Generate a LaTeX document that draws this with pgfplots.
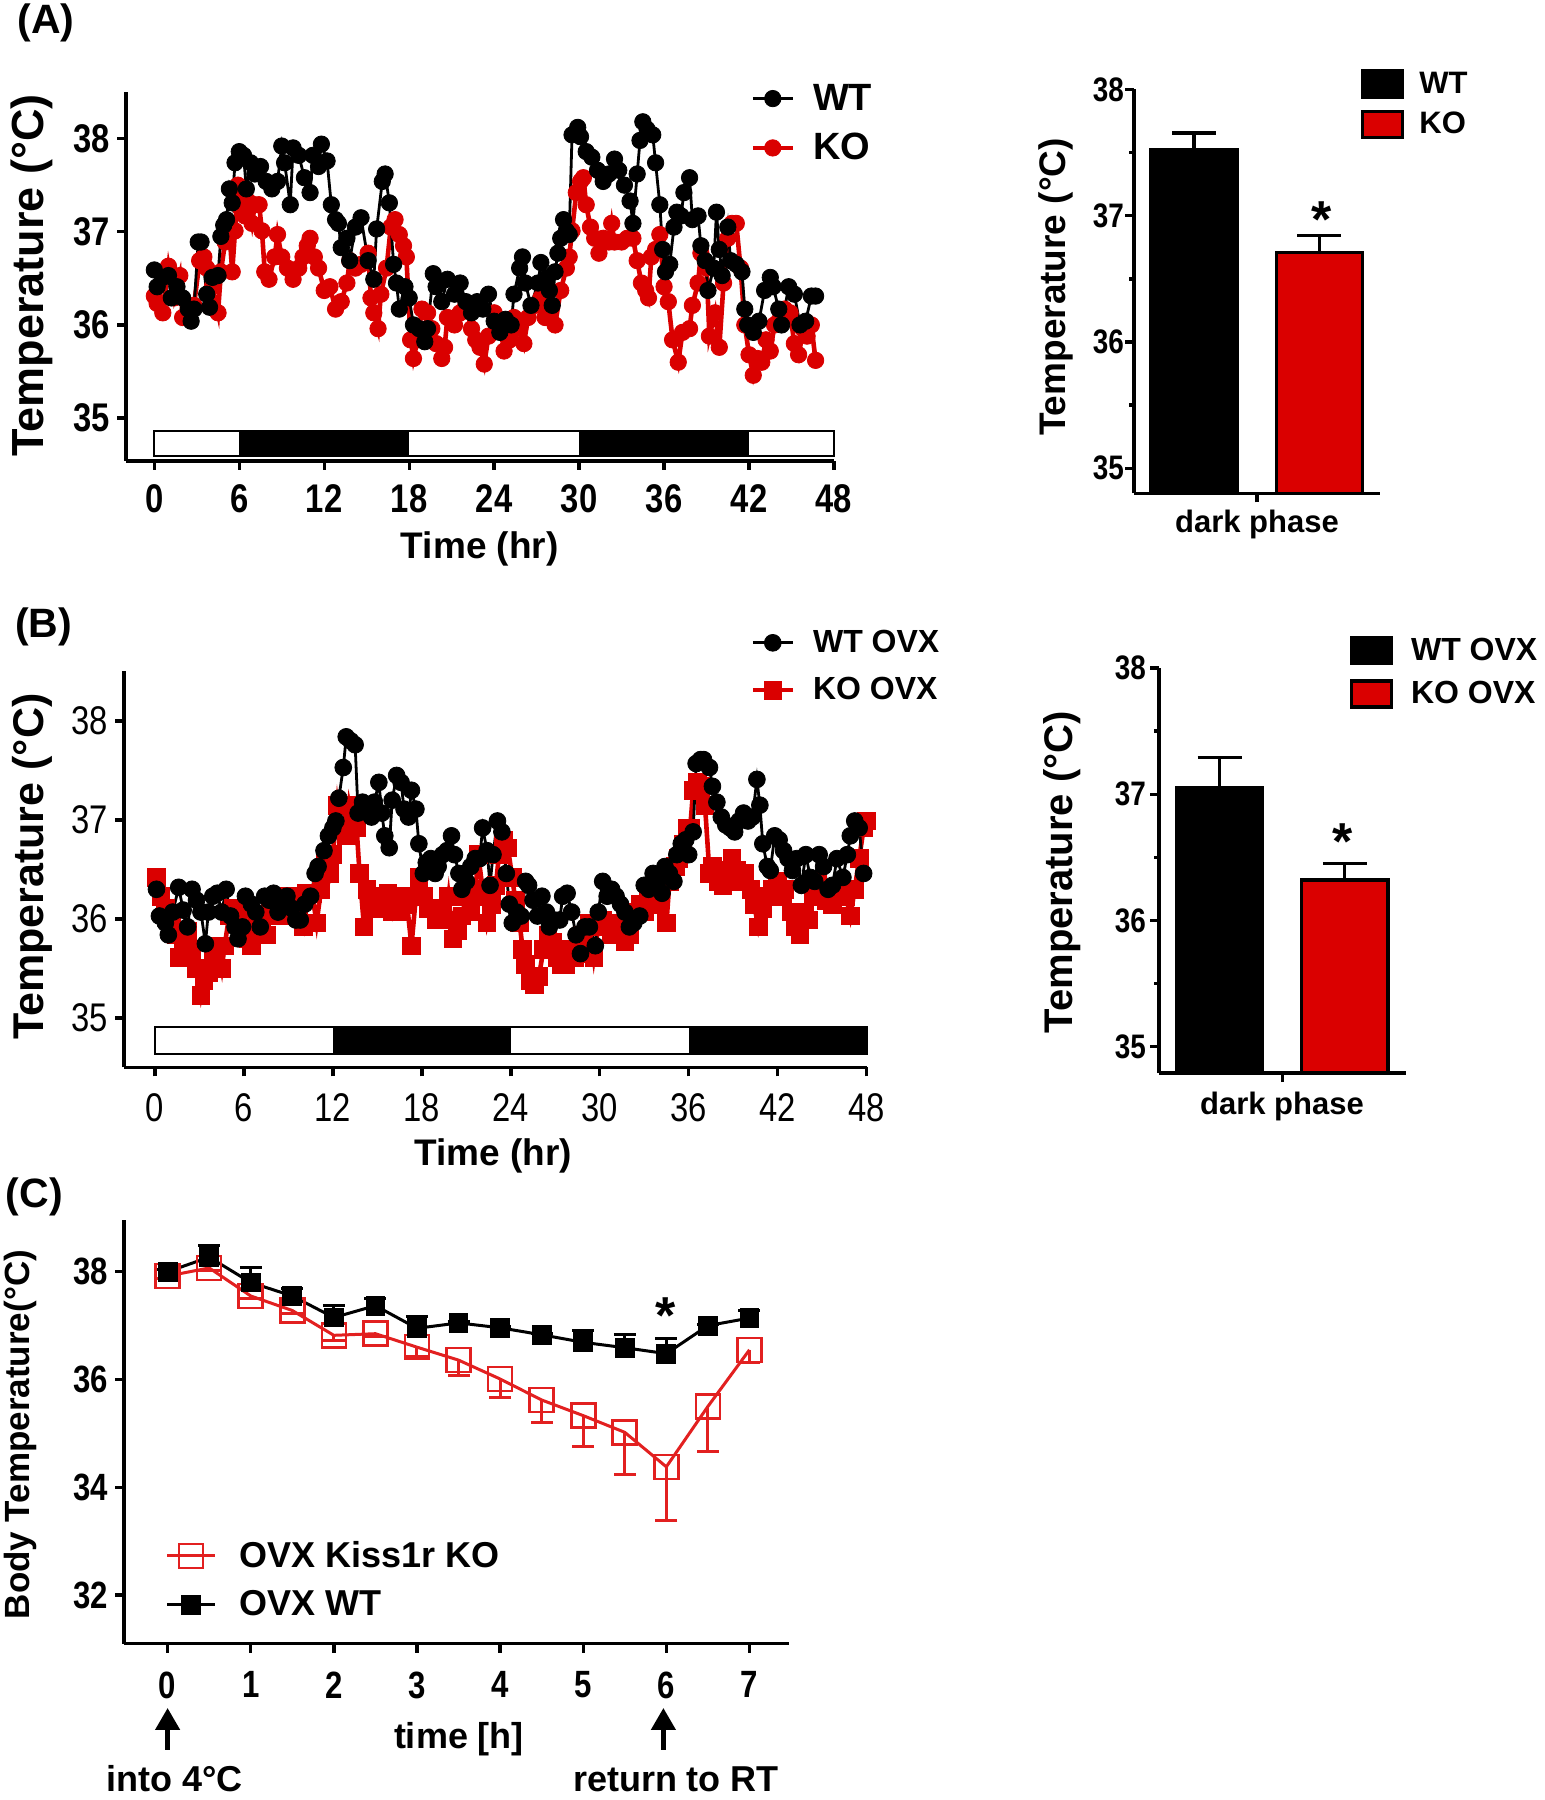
\documentclass[border=0pt]{standalone}
\usepackage{fontspec}
\setmainfont{Liberation Sans}
\newfontfamily\cond[FakeStretch=0.82]{Liberation Sans}
\usepackage{pgfplots}
\usepackage{pgfplotstable}
\pgfplotsset{compat=1.18}
\usetikzlibrary{arrows.meta}
\definecolor{myred}{RGB}{218,0,0}
\definecolor{cred}{RGB}{226,32,32}
\newcommand\fs[1]{\fontsize{#1}{#1}\selectfont}

\pgfplotsset{
  gp/.style={
    scale only axis,
    anchor=south west,
    axis lines=left,
    axis line style={line width=1.7pt,-},
    tick align=outside,
    major tick length=4.5pt,
    minor tick length=2.5pt,
    tick style={line width=1.7pt,black},
    /pgf/number format/assume math mode=true,
  },
  linelegend/.style={legend image code/.code={\draw[mark repeat=2,mark phase=2,##1] plot coordinates {(0pt,0pt) (10pt,0pt) (20pt,0pt)};}},
  boxlegend/.style={legend image code/.code={\draw[##1,line width=1.7pt] (0pt,-6.5pt) rectangle (20pt,6.5pt);}},
  errbar/.style={/pgfplots/error bars/error bar style={line width=1.7pt, black},
    /pgfplots/error bars/error mark options={rotate=90, line width=1.7pt, mark size=11pt, black}},
}

\pgfplotstableread{
t T
0.0 36.59
0.2 36.41
0.6 36.51
1.0 36.53
1.2 36.29
1.6 36.41
2.0 36.29
2.4 36.17
2.6 36.04
2.8 36.17
3.1 36.89
3.3 36.89
3.7 36.33
3.9 36.19
4.1 36.51
4.5 36.53
4.7 36.95
4.9 37.07
5.1 37.13
5.3 37.46
5.5 37.31
5.7 37.74
6.0 37.86
6.3 37.82
6.5 37.46
6.8 37.74
7.1 37.62
7.5 37.70
7.9 37.54
8.3 37.46
8.7 37.54
9.0 37.92
9.2 37.74
9.6 37.29
9.8 37.90
10.2 37.82
10.6 37.58
11.0 37.42
11.2 37.82
11.6 37.70
11.8 37.94
12.2 37.76
12.5 37.29
12.8 37.13
13.0 37.09
13.2 36.83
13.6 36.93
13.8 36.69
14.2 37.05
14.6 37.15
15.1 36.69
15.5 36.49
15.7 37.03
16.1 37.54
16.3 37.62
16.6 37.31
16.9 36.65
17.1 36.45
17.3 36.17
17.7 36.41
18.0 36.29
18.3 36.00
18.7 35.96
19.1 35.82
19.3 35.96
19.7 36.55
19.9 36.41
20.3 36.25
20.7 36.49
21.2 36.33
21.6 36.45
22.0 36.25
22.4 36.13
22.8 36.25
23.2 36.17
23.6 36.33
24.0 36.04
24.4 35.92
24.8 36.06
25.2 36.00
25.4 36.33
25.8 36.61
26.0 36.73
26.2 36.45
26.6 36.21
27.1 36.45
27.3 36.67
27.7 36.51
27.9 36.37
28.1 36.21
28.3 36.57
28.5 36.77
28.7 36.93
28.9 37.13
29.1 37.01
29.3 36.97
29.5 38.04
29.9 38.12
30.1 38.02
30.5 37.86
30.9 37.80
31.3 37.66
31.7 37.54
32.1 37.62
32.5 37.78
32.8 37.66
33.2 37.50
33.6 37.33
33.8 37.09
34.1 37.62
34.3 37.98
34.5 38.18
34.8 38.10
35.2 38.04
35.4 37.74
35.7 37.29
35.9 36.81
36.1 36.57
36.4 36.65
36.7 37.05
36.9 37.21
37.2 37.17
37.4 37.42
37.8 37.58
38.0 37.13
38.4 37.17
38.6 36.85
38.9 36.69
39.1 36.37
39.5 36.61
39.7 37.21
39.9 36.81
40.1 36.53
40.5 37.05
40.7 36.69
41.1 36.65
41.5 36.57
41.7 36.17
41.9 36.00
42.3 35.92
42.7 36.04
43.1 36.37
43.5 36.51
43.7 36.41
44.1 36.17
44.3 36.00
44.8 36.41
45.2 36.33
45.6 36.00
46.0 36.04
46.4 36.31
46.7 36.31
}\AWT

\pgfplotstableread{
t T
0.0 36.31
0.2 36.23
0.6 36.13
1.0 36.63
1.4 36.29
1.8 36.53
2.0 36.08
2.4 36.21
2.8 36.21
3.2 36.69
3.5 36.73
3.7 36.61
4.1 36.41
4.5 36.13
4.7 36.57
5.0 36.89
5.3 37.01
5.5 36.57
5.7 37.01
5.9 37.50
6.1 37.25
6.4 37.17
6.6 37.33
6.9 37.09
7.1 37.29
7.4 37.29
7.6 37.01
7.8 36.57
8.1 36.49
8.5 36.73
8.7 36.97
9.0 36.73
9.4 36.61
9.8 36.49
10.2 36.61
10.5 36.73
10.8 36.85
11.0 36.93
11.3 36.73
11.6 36.61
12.0 36.37
12.4 36.41
12.8 36.17
13.2 36.25
13.6 36.45
13.8 36.69
14.2 36.61
14.6 36.65
15.1 36.77
15.3 36.29
15.5 36.13
15.8 35.96
16.0 36.33
16.4 36.61
16.7 37.05
17.0 37.13
17.3 36.97
17.6 36.85
17.8 36.73
18.1 35.84
18.3 35.64
18.6 35.84
18.9 36.17
19.3 36.13
19.6 35.96
19.9 35.80
20.3 35.64
20.5 35.76
20.7 36.08
21.2 36.00
21.6 36.13
22.0 36.21
22.4 35.96
22.7 35.84
23.0 35.76
23.3 35.58
23.6 35.88
24.0 36.13
24.4 36.00
24.7 35.72
25.1 35.84
25.4 36.08
25.8 35.96
26.1 35.80
26.4 36.08
26.9 36.21
27.3 36.29
27.6 36.08
27.9 36.17
28.3 36.00
28.7 36.37
29.1 36.61
29.3 36.73
29.5 37.01
29.8 37.42
30.1 37.54
30.3 37.58
30.5 37.29
30.8 37.05
31.1 36.93
31.4 36.77
31.7 36.93
32.1 36.89
32.3 37.09
32.5 36.89
33.0 36.89
33.4 36.93
33.8 36.93
34.1 36.69
34.4 36.45
34.7 36.37
34.9 36.29
35.1 36.73
35.4 36.81
35.7 36.97
36.0 36.41
36.3 36.25
36.6 35.84
37.0 35.60
37.3 35.92
37.8 35.96
38.0 36.21
38.4 36.45
38.6 36.77
39.0 36.61
39.2 35.88
39.6 36.13
39.9 35.76
40.2 36.45
40.5 36.93
40.8 37.09
41.1 37.09
41.4 36.61
41.7 36.00
42.0 35.68
42.3 35.46
42.6 35.64
42.9 35.60
43.2 35.84
43.5 35.72
43.8 36.00
44.1 36.04
44.5 36.17
44.9 36.13
45.2 35.80
45.5 35.68
45.8 35.96
46.1 35.88
46.4 36.00
46.7 35.62
}\AKO

\pgfplotstableread{
t T
0.1 36.30
0.3 36.03
0.7 35.96
0.9 35.84
1.2 36.07
1.6 36.32
1.9 36.09
2.2 35.92
2.5 36.30
2.8 36.19
3.1 36.07
3.4 35.75
3.6 36.07
3.9 36.23
4.2 36.26
4.5 36.07
4.8 36.30
5.1 36.03
5.4 35.92
5.6 35.80
5.9 35.92
6.1 36.23
6.5 36.15
6.8 36.07
7.1 35.92
7.4 36.23
7.7 36.19
8.0 36.26
8.3 36.07
8.6 36.19
8.9 36.23
9.2 36.11
9.5 35.99
9.8 35.99
10.1 36.15
10.5 36.23
10.8 36.46
11.0 36.53
11.4 36.69
11.7 36.84
12.0 36.92
12.2 36.99
12.4 37.22
12.7 37.53
12.9 37.84
13.2 37.80
13.5 37.76
13.7 37.07
14.0 37.18
14.3 37.15
14.6 37.03
14.8 37.18
15.1 37.38
15.3 37.07
15.5 36.84
15.8 36.72
16.0 37.20
16.3 37.45
16.6 37.38
16.8 37.11
17.1 37.03
17.3 37.30
17.6 37.11
17.8 36.76
18.1 36.46
18.3 36.57
18.6 36.61
18.9 36.46
19.1 36.53
19.4 36.65
19.7 36.69
20.0 36.84
20.2 36.65
20.5 36.46
20.7 36.30
21.0 36.38
21.3 36.53
21.6 36.61
21.9 36.61
22.1 36.92
22.4 36.69
22.6 36.34
22.8 36.65
23.1 36.99
23.4 36.88
23.7 36.46
23.9 36.15
24.1 35.96
24.4 36.07
24.7 36.03
25.0 36.38
25.2 36.34
25.5 36.19
25.8 36.03
26.1 36.23
26.4 36.07
26.6 35.92
26.9 35.99
27.3 35.99
27.5 36.23
27.8 36.26
28.1 36.07
28.4 35.84
28.7 35.65
29.0 35.92
29.3 35.92
29.7 35.73
29.9 36.07
30.2 36.38
30.5 36.23
30.8 36.30
31.1 36.23
31.4 36.15
31.7 36.07
32.0 35.92
32.3 35.96
32.7 36.03
33.0 36.34
33.3 36.30
33.6 36.46
33.9 36.38
34.2 36.26
34.4 36.53
34.7 36.46
35.0 36.38
35.2 36.65
35.5 36.76
35.8 36.80
36.0 36.65
36.3 36.88
36.5 37.57
36.8 37.61
37.0 37.61
37.4 37.53
37.6 37.34
37.9 37.18
38.2 37.03
38.5 36.95
38.8 36.92
39.1 36.88
39.4 36.99
39.7 37.07
40.0 36.99
40.3 37.03
40.6 37.41
40.8 37.15
41.0 36.76
41.3 36.53
41.5 36.49
41.8 36.84
42.1 36.80
42.4 36.69
42.7 36.61
43.0 36.49
43.3 36.61
43.6 36.34
43.9 36.65
44.2 36.42
44.5 36.38
44.8 36.65
45.1 36.53
45.4 36.30
45.7 36.34
46.0 36.61
46.4 36.42
46.7 36.65
46.9 36.84
47.2 36.99
47.5 36.92
47.8 36.46
}\BWT

\pgfplotstableread{
t T
0.1 36.42
0.4 36.23
0.7 36.11
1.1 35.92
1.4 35.84
1.6 35.61
1.9 35.73
2.2 35.88
2.5 35.69
2.8 35.50
3.1 35.23
3.3 35.38
3.6 35.46
3.9 35.61
4.2 35.73
4.5 35.50
4.7 35.73
5.0 36.03
5.3 36.11
5.6 35.96
6.0 36.11
6.3 35.80
6.5 35.73
6.9 35.96
7.2 35.92
7.5 35.84
7.8 36.07
8.1 36.11
8.4 36.03
8.7 36.03
9.0 36.23
9.3 36.11
9.7 36.03
10.0 35.92
10.2 36.26
10.6 36.26
10.9 35.96
11.2 36.30
11.5 36.61
11.8 36.46
12.0 36.65
12.3 37.15
12.5 36.92
12.9 36.84
13.1 37.15
13.3 36.99
13.6 36.92
13.8 36.46
14.1 35.92
14.3 36.30
14.6 36.23
14.9 36.11
15.1 36.23
15.4 36.19
15.7 36.26
16.0 36.07
16.2 36.19
16.5 36.07
16.8 36.23
17.0 36.15
17.3 35.73
17.6 36.23
17.8 36.42
18.1 36.23
18.4 36.11
18.7 36.11
19.0 35.99
19.3 36.07
19.6 35.99
19.8 36.23
20.1 35.80
20.4 35.88
20.7 36.03
21.0 36.23
21.3 36.07
21.6 36.23
21.8 36.65
22.1 36.30
22.4 35.96
22.7 36.15
23.0 36.34
23.2 36.65
23.5 36.80
23.8 36.72
24.1 36.42
24.3 36.19
24.6 35.96
24.8 35.69
25.0 35.54
25.3 35.38
25.6 35.34
25.9 35.42
26.2 35.69
26.5 35.84
26.8 35.77
27.1 35.61
27.4 35.54
27.7 35.54
28.0 35.69
28.3 35.61
28.6 35.65
28.9 35.84
29.3 35.96
29.6 35.61
29.9 35.92
30.2 35.99
30.5 35.92
30.8 35.84
31.0 35.96
31.4 35.92
31.7 35.77
32.0 35.84
32.3 36.07
32.7 36.15
33.0 36.07
33.3 36.23
33.6 36.15
33.9 36.38
34.2 36.38
34.5 35.96
34.7 36.38
35.1 36.53
35.3 36.61
35.6 36.76
35.9 36.92
36.1 36.92
36.3 37.30
36.6 37.38
36.8 37.34
37.1 37.15
37.4 36.46
37.6 36.53
38.0 36.38
38.3 36.34
38.6 36.49
38.9 36.61
39.2 36.49
39.5 36.38
39.8 36.46
40.2 36.30
40.4 36.15
40.7 35.92
41.0 36.11
41.3 36.23
41.6 36.30
42.0 36.38
42.3 36.23
42.5 36.30
42.9 36.07
43.2 35.92
43.5 35.84
43.8 36.07
44.1 35.99
44.4 36.23
44.7 36.38
45.0 36.30
45.3 36.19
45.7 36.15
46.0 36.26
46.3 36.30
46.6 36.23
46.9 36.03
47.2 36.30
47.5 36.61
47.8 36.92
48.0 36.99
}\BKO

\pgfplotstableread{
t T e
0 38.00 0.05
0.5 38.27 0.21
1 37.80 0.27
1.5 37.55 0.13
2 37.15 0.23
2.5 37.37 0.13
3 36.95 0.21
3.5 37.05 0.03
4 36.96 0.03
4.5 36.83 0.03
5 36.69 0.22
5.5 36.59 0.24
6 36.48 0.28
6.5 37.00 0.03
7 37.14 0.14
}\CWT

\pgfplotstableread{
t T e
0 37.92 0.05
0.5 38.07 0.05
1 37.55 0.05
1.5 37.28 0.05
2 36.82 0.10
2.5 36.85 0.05
3 36.60 0.17
3.5 36.36 0.28
4 36.01 0.34
4.5 35.62 0.42
5 35.33 0.58
5.5 35.02 0.78
6 34.38 1.00
6.5 35.50 0.83
7 36.55 0.24
}\CKO

\begin{document}
\begin{tikzpicture}
\path[use as bounding box] (0,0) rectangle (772.5pt,900pt);

% ---------- Panel A, time course ----------
\begin{axis}[gp, at={(63pt,669.5pt)}, width=354pt, height=184.5pt,
  xmin=-2, xmax=48, ymin=34.54, ymax=38.5,
  xtick={0,6,...,48}, ytick={35,36,37,38},
  ticklabel style={font=\cond\fs{20}\bfseries},
  xticklabel style={yshift=-4pt},
  clip=false, linelegend,
  legend style={draw=none, fill=none, at={(0.873,0.915)}, anchor=west,
    font=\fs{19}\bfseries, row sep=6pt,
    /tikz/every odd column/.append style={column sep=7pt}},
  legend cell align=left, reverse legend]
\draw[line width=1pt, fill=white] (axis cs:0,34.59) rectangle (axis cs:48,34.86);
\fill[black] (axis cs:6,34.59) rectangle (axis cs:18,34.86);
\fill[black] (axis cs:30,34.59) rectangle (axis cs:42,34.86);
\addplot[myred, line width=2.3pt, mark=*, mark size=4.1pt, mark options={fill=myred, draw=myred, line width=0.4pt}] table {\AKO};
\addlegendentry{KO}
\addplot[black, line width=1.4pt, mark=*, mark size=4.1pt, mark options={fill=black, line width=0.4pt}] table {\AWT};
\addlegendentry{WT}
\end{axis}

% ---------- Panel A, bars ----------
\begin{axis}[gp, at={(567pt,653.25pt)}, width=123pt, height=202pt,
  xmin=0, xmax=1, ymin=34.8, ymax=38,
  xtick={0.5}, xticklabels={}, ytick={35,36,37,38}, minor ytick={35.5,36.5,37.5},
  ticklabel style={font=\cond\fs{17}\bfseries},
  yticklabel style={xshift=3pt},
  legend style={draw=none, fill=none, at={(0.895,0.963)}, anchor=west,
    font=\fs{15.5}\bfseries, row sep=4pt,
    /tikz/every odd column/.append style={column sep=5.7pt}},
  legend cell align=left]
\addplot[ybar, bar width=0.35, bar shift=0pt, fill=black, draw=black, line width=1.7pt, boxlegend, errbar,
  error bars/.cd, y dir=plus, y explicit]
  coordinates {(0.244,37.52) +- (0,0.135)};
\addlegendentry{WT}
\addplot[ybar, bar width=0.35, bar shift=0pt, fill=myred, draw=black, line width=1.7pt, boxlegend, errbar,
  error bars/.cd, y dir=plus, y explicit]
  coordinates {(0.754,36.71) +- (0,0.135)};
\addlegendentry{KO}
\end{axis}

% ---------- Panel B, time course ----------
\begin{axis}[gp, at={(62pt,366.25pt)}, width=371.3pt, height=198pt,
  xmin=-2.09, xmax=48, ymin=34.5, ymax=38.5,
  xtick={0,6,...,48}, ytick={35,36,37,38},
  ticklabel style={font=\cond\fs{20}},
  xticklabel style={yshift=-5pt},
  clip=false, linelegend,
  legend style={draw=none, fill=none, at={(0.835,1.0126)}, anchor=west,
    font=\fs{16}\bfseries, row sep=7pt,
    /tikz/every odd column/.append style={column sep=7pt}},
  legend cell align=left, reverse legend]
\draw[line width=1pt, fill=white] (axis cs:0,34.64) rectangle (axis cs:48,34.91);
\fill[black] (axis cs:12,34.64) rectangle (axis cs:24,34.91);
\fill[black] (axis cs:36,34.64) rectangle (axis cs:48,34.91);
\addplot[myred, line width=2.3pt, mark=square*, mark size=4.4pt, mark options={fill=myred, draw=myred, line width=0.4pt}] table {\BKO};
\addlegendentry{KO OVX}
\addplot[black, line width=1.4pt, mark=*, mark size=4.2pt, mark options={fill=black, line width=0.4pt}] table {\BWT};
\addlegendentry{WT OVX}
\end{axis}

% ---------- Panel B, bars ----------
\begin{axis}[gp, at={(579.5pt,363.4pt)}, width=123.5pt, height=202.6pt,
  xmin=0, xmax=1, ymin=34.79, ymax=38,
  xtick={0.5}, xticklabels={}, ytick={35,36,37,38}, minor ytick={35.5,36.5,37.5},
  ticklabel style={font=\cond\fs{17}\bfseries},
  yticklabel style={xshift=1.5pt},
  legend style={draw=none, fill=none, at={(0.746,0.989)}, anchor=west,
    font=\fs{16}\bfseries, row sep=5pt,
    /tikz/every odd column/.append style={column sep=7pt}},
  legend cell align=left]
\addplot[ybar, bar width=0.35, bar shift=0pt, fill=black, draw=black, line width=1.7pt, boxlegend, errbar,
  error bars/.cd, y dir=plus, y explicit]
  coordinates {(0.245,37.05) +- (0,0.24)};
\addlegendentry{WT OVX}
\addplot[ybar, bar width=0.35, bar shift=0pt, fill=myred, draw=black, line width=1.7pt, boxlegend, errbar,
  error bars/.cd, y dir=plus, y explicit]
  coordinates {(0.752,36.32) +- (0,0.13)};
\addlegendentry{KO OVX}
\end{axis}

% ---------- Panel C ----------
\begin{axis}[gp, at={(62pt,78.2pt)}, width=332.25pt, height=211.8pt,
  xmin=-0.525, xmax=7.47, ymin=31.1, ymax=38.96,
  xtick={0,...,7}, ytick={32,34,36,38},
  ticklabel style={font=\cond\fs{19}\bfseries},
  xticklabel style={yshift=-6pt},
  clip=false,
  legend image code/.code={\draw[mark repeat=2,mark phase=2,#1] plot coordinates {(0pt,0pt) (12pt,0pt) (24pt,0pt)};},
  legend style={draw=none, fill=none, at={(0.053,0.150)}, anchor=west,
    font=\fs{18}\bfseries, row sep=6pt,
    /tikz/every odd column/.append style={column sep=9.5pt}},
  legend cell align=left]
\addplot[cred, line width=1.5pt, mark=square, mark size=6pt, mark options={fill=white, line width=1.3pt},
  error bars/.cd, y dir=minus, y explicit,
  error bar style={line width=1.5pt, cred},
  error mark options={rotate=90, line width=1.5pt, mark size=5.5pt, cred}]
  table[x=t, y=T, y error=e] {\CKO};
\addlegendentry{OVX Kiss1r KO}
\addplot[black, line width=1.5pt, mark=square*, mark size=4.2pt, mark options={fill=black},
  error bars/.cd, y dir=plus, y explicit,
  error bar style={line width=1.5pt, black},
  error mark options={rotate=90, line width=1.5pt, mark size=5.5pt, black}]
  table[x=t, y=T, y error=e] {\CWT};
\addlegendentry{OVX WT}
\end{axis}

% ---------- text annotations ----------
\node[font=\fs{20.5}\bfseries] at (23pt,888.5pt) {(A)};
\node[font=\fs{20.5}\bfseries] at (21.8pt,586.7pt) {(B)};
\node[font=\fs{20.5}\bfseries] at (17.2pt,301.5pt) {(C)};

\node[font=\fs{22.5}\bfseries, rotate=90] at (16pt,762.25pt) {Temperature (°C)};
\node[font=\fs{18.5}\bfseries] at (239.9pt,625.7pt) {Time (hr)};
\node[font=\fs{18.5}\bfseries, rotate=90] at (528pt,756.5pt) {Temperature (°C)};
\node[font=\fs{15.5}\bfseries] at (628.5pt,637.75pt) {dark phase};
\node[font=\fs{26}\bfseries] at (661pt,790.4pt) {*};

\node[font=\fs{21.5}\bfseries, rotate=90] at (16pt,466.7pt) {Temperature (°C)};
\node[font=\fs{18.5}\bfseries] at (246.75pt,322.1pt) {Time (hr)};
\node[font=\fs{20}\bfseries, rotate=90] at (530.9pt,463.9pt) {Temperature (°C)};
\node[font=\fs{15.5}\bfseries] at (641pt,346.75pt) {dark phase};
\node[font=\fs{26}\bfseries] at (671.5pt,479.4pt) {*};

\node[font=\fs{17.5}\bfseries, rotate=90] at (10.4pt,182.7pt) {Body Temperature(°C)};
\node[font=\fs{26}\bfseries] at (332.85pt,242.4pt) {*};
\node[font=\fs{18}\bfseries] at (229.5pt,30.5pt) {time [h]};
\node[font=\fs{18}\bfseries] at (87.3pt,10.5pt) {into 4°C};
\node[font=\fs{18}\bfseries] at (338pt,10.5pt) {return to RT};
\draw[line width=2.3pt, -{Triangle[width=12pt,length=11pt]}] (83.8pt,25pt) -- (83.8pt,46pt);
\draw[line width=2.3pt, -{Triangle[width=12pt,length=11pt]}] (331.7pt,25pt) -- (331.7pt,46pt);
\end{tikzpicture}
\end{document}
